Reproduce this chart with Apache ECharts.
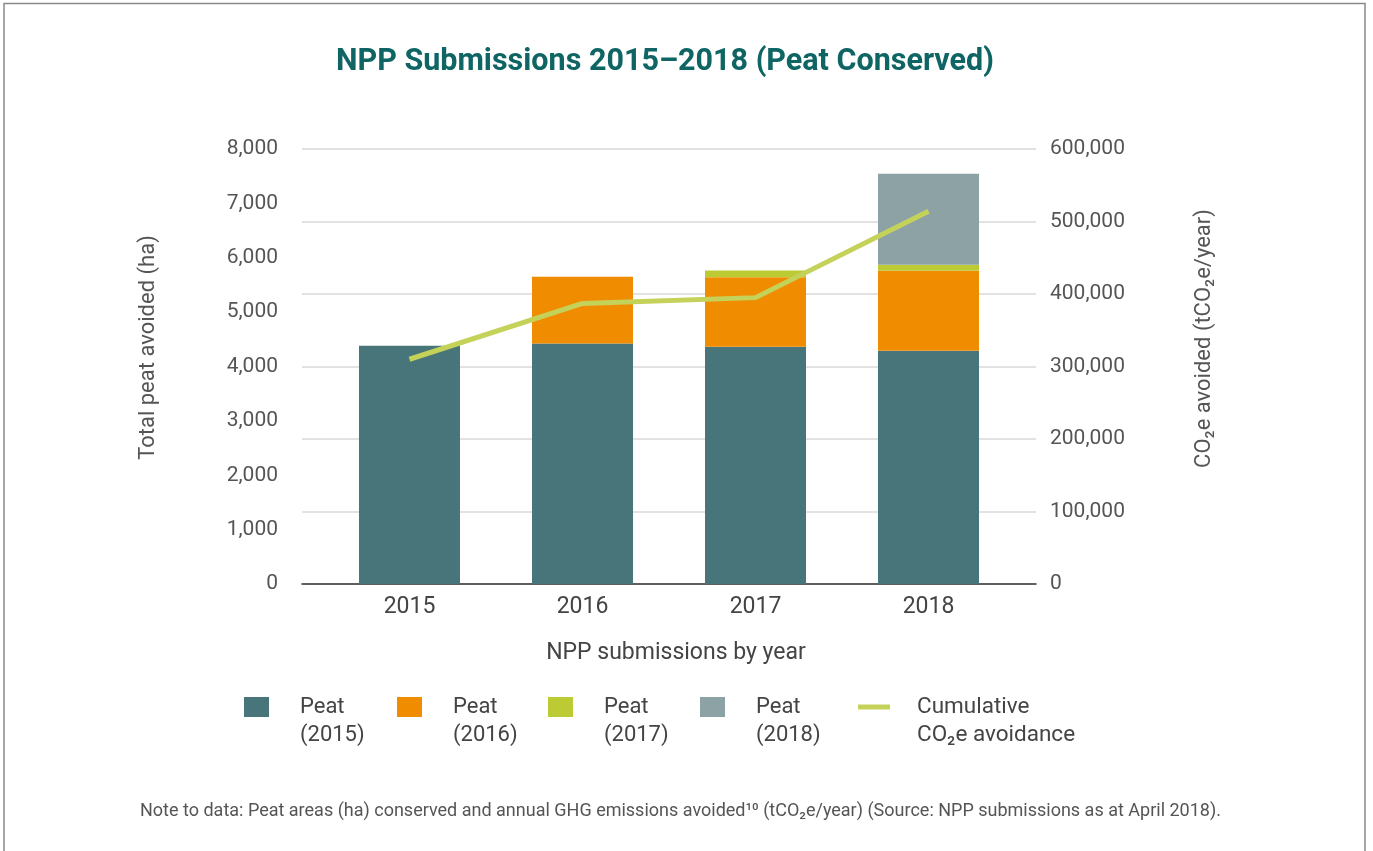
<!DOCTYPE html>
<html>
<head>
<meta charset="utf-8">
<title>NPP Submissions 2015–2018 (Peat Conserved)</title>
<script src="https://cdn.jsdelivr.net/npm/echarts@6/dist/echarts.min.js"></script>
<style>
    html, body { margin: 0; padding: 0; background: #fff; }
    #chart { width: 1373px; height: 851px; }
</style>
</head>
<body>
<div id="chart"></div>
<script>
// data
var years = ['2015', '2016', '2017', '2018'];
var peat2015 = [4380, 4425, 4365, 4290];
var peat2016 = [null, 1225, 1275, 1470];
var peat2017 = [null, null, 125, 110];
var peat2018 = [null, null, null, 1675];
var co2Cumulative = [310000, 387000, 395000, 514000];

var leftTicks = { min: 0, max: 8000, interval: 1000 };
var rightTicks = { min: 0, max: 600000, interval: 100000 };

var textFont = 'Roboto, "Noto Sans", sans-serif';
var labelColor = '#555';

function fmt(v) { return Number(v).toLocaleString('en-US'); }

var chart = echarts.init(document.getElementById('chart'));

// grid 0 carries the visible frame (labels, gridlines, baseline),
// grid 1 is a bit narrower and carries the category bars + line
var plotTop = 149, plotHeight = 435;

function legendFor(name, left, iconH) {
    var isLine = name.indexOf('Cumulative') === 0;
    return {
        data: [name],
        left: left,
        top: 665,
        padding: 0,
        itemWidth: isLine ? 32 : 25,
        itemHeight: iconH,
        itemGap: 0,
        icon: 'rect',
        selectedMode: false,
        // leading blank line keeps the first text line level with the icon
        formatter: function (n) { return '\n' + n; },
        textStyle: {
            fontFamily: textFont,
            fontSize: isLine ? 22.5 : 22,
            color: '#444',
            lineHeight: 28,
            padding: [0, 0, 0, isLine ? 22 : 26]
        }
    };
}

var option = {
    backgroundColor: '#fff',
    animation: false,
    title: [{
        text: 'NPP Submissions 2015–2018 (Peat Conserved)',
        left: 331,
        top: 42,
        textStyle: { fontFamily: textFont, fontSize: 30.5, fontWeight: 'bold', color: '#0F6464' }
    }, {
        text: 'Note to data: Peat areas (ha) conserved and annual GHG emissions avoided¹⁰ (tCO₂e/year) (Source: NPP submissions as at April 2018).',
        left: 135,
        top: 797,
        textStyle: { fontFamily: textFont, fontSize: 18, fontWeight: 'normal', color: labelColor }
    }],
    legend: [
        legendFor('Peat\n(2015)', 244, 20),
        legendFor('Peat\n(2016)', 397, 20),
        legendFor('Peat\n(2017)', 548, 20),
        legendFor('Peat\n(2018)', 700, 20),
        legendFor('Cumulative\nCO₂e avoidance', 858, 5)
    ],
    grid: [
        { left: 302, width: 734, top: plotTop, height: plotHeight },
        { left: 323, width: 692, top: plotTop, height: plotHeight }
    ],
    xAxis: [{
        gridIndex: 0,
        type: 'value',
        min: 0, max: 1,
        axisLabel: { show: false },
        axisTick: { show: false },
        splitLine: { show: false },
        axisLine: { show: true, lineStyle: { color: '#333', width: 1.5 } }
    }, {
        gridIndex: 1,
        type: 'category',
        data: years,
        axisLine: { show: false },
        axisTick: { show: false },
        axisLabel: { fontFamily: textFont, fontSize: 23, color: '#444', margin: 12 },
        name: 'NPP submissions by year',
        nameLocation: 'middle',
        nameGap: 58,
        nameTextStyle: { fontFamily: textFont, fontSize: 23, color: '#444', padding: [0, 0, 0, 14] }
    }],
    yAxis: [{
        gridIndex: 0,
        type: 'value',
        position: 'left',
        min: leftTicks.min, max: leftTicks.max, interval: leftTicks.interval,
        axisLine: { show: false },
        axisTick: { show: false },
        splitLine: { show: false },
        axisLabel: { fontFamily: textFont, fontSize: 21, color: labelColor, margin: 24, formatter: fmt },
        name: 'Total peat avoided (ha)',
        nameLocation: 'middle',
        nameGap: 143,
        nameTextStyle: { fontFamily: textFont, fontSize: 22, color: labelColor, padding: [0, 0, 0, 38] }
    }, {
        gridIndex: 0,
        type: 'value',
        position: 'right',
        min: rightTicks.min, max: rightTicks.max, interval: rightTicks.interval,
        axisLine: { show: false },
        axisTick: { show: false },
        splitLine: { show: true, lineStyle: { color: '#d9d9d9', width: 1.5 } },
        axisLabel: { fontFamily: textFont, fontSize: 21, color: labelColor, margin: 14, formatter: fmt },
        name: 'CO₂e avoided (tCO₂e/year)',
        nameLocation: 'middle',
        nameGap: 157,
        nameRotate: 90,
        nameTextStyle: { fontFamily: textFont, fontSize: 22, color: labelColor, padding: [0, 0, 0, 56] }
    }, {
        gridIndex: 1,
        type: 'value',
        min: leftTicks.min, max: leftTicks.max,
        show: false
    }, {
        gridIndex: 1,
        type: 'value',
        min: rightTicks.min, max: rightTicks.max,
        show: false
    }],
    series: [{
        name: 'Peat\n(2015)', type: 'bar', stack: 'peat',
        xAxisIndex: 1, yAxisIndex: 2, barWidth: 101,
        itemStyle: { color: '#47757A' },
        data: peat2015
    }, {
        name: 'Peat\n(2016)', type: 'bar', stack: 'peat',
        xAxisIndex: 1, yAxisIndex: 2, barWidth: 101,
        itemStyle: { color: '#F08C00' },
        data: peat2016
    }, {
        name: 'Peat\n(2017)', type: 'bar', stack: 'peat',
        xAxisIndex: 1, yAxisIndex: 2, barWidth: 101,
        itemStyle: { color: '#BCCB34' },
        data: peat2017
    }, {
        name: 'Peat\n(2018)', type: 'bar', stack: 'peat',
        xAxisIndex: 1, yAxisIndex: 2, barWidth: 101,
        itemStyle: { color: '#8DA2A5' },
        data: peat2018
    }, {
        name: 'Cumulative\nCO₂e avoidance', type: 'line',
        xAxisIndex: 1, yAxisIndex: 3,
        symbol: 'none',
        lineStyle: { color: '#C4D25A', width: 5 },
        itemStyle: { color: '#C4D25A' },
        data: co2Cumulative
    }],
    graphic: [{
        // thin frame round the figure (open at the bottom)
        type: 'polyline',
        silent: true,
        shape: { points: [[4, 851], [4, 3.5], [1365, 3.5], [1365, 851]] },
        style: { stroke: '#8a8a8a', lineWidth: 1.5, fill: null }
    }]
};

chart.setOption(option);
</script>
</body>
</html>
